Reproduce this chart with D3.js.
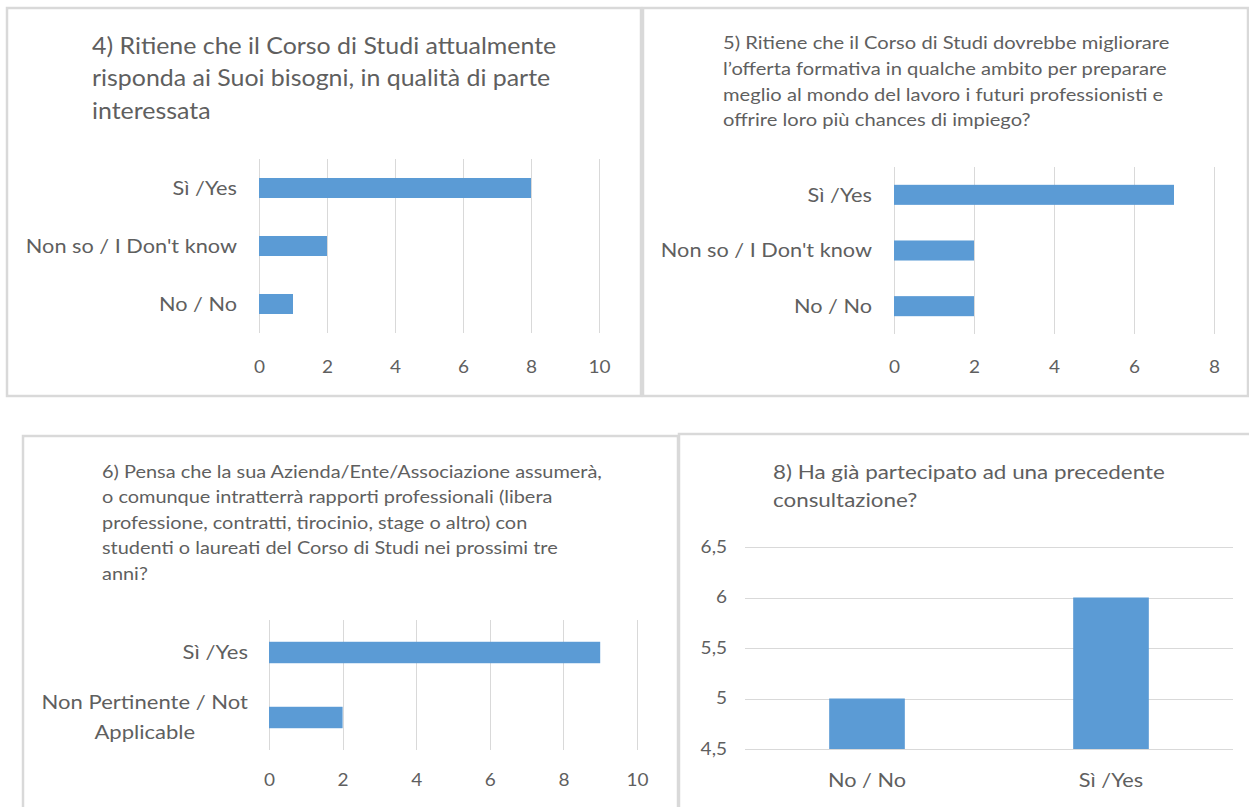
<!DOCTYPE html>
<html>
<head>
<meta charset="utf-8">
<script src="https://cdn.jsdelivr.net/npm/d3@7"></script>
<style>
  body { margin: 0; background: #fff; }
  svg { display: block; }
  text { font-family: Lato, "Open Sans", sans-serif; fill: #5f5f5f; }
</style>
</head>
<body>
<svg id="chart" width="1249" height="807"></svg>
<script>

// ===========================//
// DATA
// ===========================//

// Question 4
var q4Title = ["4) Ritiene che il Corso di Studi attualmente",
               "risponda ai Suoi bisogni, in qualità di parte",
               "interessata"]
var q4Cats = ["Sì /Yes", "Non so / I Don't know", "No / No"]
var q4Values = [8, 2, 1]
var q4Ticks = [0, 2, 4, 6, 8, 10]

// Question 5
var q5Title = ["5) Ritiene che il Corso di Studi dovrebbe migliorare",
               "l\u2019offerta formativa in qualche ambito per preparare",
               "meglio al mondo del lavoro i futuri professionisti e",
               "offrire loro più chances di impiego?"]
var q5Cats = ["Sì /Yes", "Non so / I Don't know", "No / No"]
var q5Values = [7, 2, 2]
var q5Ticks = [0, 2, 4, 6, 8]

// Question 6
var q6Title = ["6) Pensa che la sua Azienda/Ente/Associazione assumerà,",
               "o comunque intratterrà rapporti professionali (libera",
               "professione, contratti, tirocinio, stage o altro) con",
               "studenti o laureati del Corso di Studi nei prossimi tre",
               "anni?"]
var q6Cats = ["Sì /Yes", "Non Pertinente / Not|Applicable"]
var q6Values = [9, 2]
var q6Ticks = [0, 2, 4, 6, 8, 10]

// Question 8
var q8Title = ["8) Ha già partecipato ad una precedente",
               "consultazione?"]
var q8Cats = ["No / No", "Sì /Yes"]
var q8Values = [5, 6]
var q8Ticks = [4.5, 5, 5.5, 6, 6.5]


// ===========================//
// STYLE
// ===========================//

var barColor = "#5b9bd5"
var gridColor = "#d9d9d9"
var borderColor = "#d9d9d9"
var textColor = "#5f5f5f"

// the source picture is a bit wider than tall, so text is stretched a little
var stretch = 1.12

var itFormat = d3.formatLocale({decimal: ",", thousands: ".", grouping: [3], currency: ["", "€"]}).format("~g")

var svg = d3.select("#chart")


// ===========================//
// HELPERS
// ===========================//

// panel frame
function drawBorder(box) {
  svg.append("rect")
    .attr("x", box.x).attr("y", box.y)
    .attr("width", box.w).attr("height", box.h)
    .attr("fill", "none")
    .attr("stroke", borderColor)
    .attr("stroke-width", 2.5)
}

// multi line title, lines given
function drawTitle(lines, t) {
  var txt = svg.append("text")
    .attr("transform", "translate(" + t.x + ",0) scale(" + stretch + ",1)")
    .style("font-size", t.size + "px")
  txt.selectAll("tspan")
    .data(lines)
    .enter()
    .append("tspan")
      .attr("x", 0)
      .attr("y", function(d, i){ return t.y + i * t.lh })
      .text(function(d){ return d })
}

// restyle axis labels
function styleAxisText(sel, size) {
  sel.selectAll("text")
    .attr("fill", textColor)
    .attr("transform", "scale(" + stretch + ",1)")
    .style("font-size", size + "px")
    .style("font-family", "Lato, sans-serif")
}

// horizontal bar chart
function drawHBar(cfg) {
  drawBorder(cfg.box)
  drawTitle(cfg.title, cfg.titlePos)

  var x = d3.scaleLinear()
    .domain(cfg.domain)
    .range([cfg.plot.x0, cfg.plot.x1])

  var y = d3.scaleBand()
    .domain(cfg.cats)
    .range([cfg.plot.y0, cfg.plot.y1])
    .paddingInner(cfg.pad)
    .paddingOuter(cfg.pad / 2)

  // gridlines
  svg.append("g")
    .selectAll("line")
    .data(cfg.ticks)
    .enter()
    .append("line")
      .attr("x1", function(d){ return Math.round(x(d)) + 0.5 })
      .attr("x2", function(d){ return Math.round(x(d)) + 0.5 })
      .attr("y1", cfg.plot.y0)
      .attr("y2", cfg.plot.y1)
      .attr("stroke", gridColor)
      .attr("stroke-width", 1)

  // bars
  svg.append("g")
    .selectAll("rect")
    .data(cfg.values)
    .enter()
    .append("rect")
      .attr("x", x(cfg.domain[0]))
      .attr("y", function(d, i){ return y(cfg.cats[i]) })
      .attr("width", function(d){ return x(d) - x(cfg.domain[0]) })
      .attr("height", y.bandwidth())
      .attr("fill", barColor)

  // tick labels
  var axis = d3.axisBottom(x).tickValues(cfg.ticks).tickSize(0).tickPadding(0)
  var ax = svg.append("g")
    .attr("transform", "translate(0," + cfg.tickY + ")")
    .call(axis)
  ax.select(".domain").remove()
  styleAxisText(ax, cfg.tickSize)
  ax.selectAll("text").attr("dy", "0.35em")

  // category labels (may wrap on "|")
  cfg.cats.forEach(function(c) {
    var lines = c.split("|")
    var cy = y(c) + y.bandwidth() / 2
    var g = svg.append("text")
      .style("font-size", cfg.labelSize + "px")
    lines.forEach(function(l, i) {
      g.append("tspan")
        .attr("x", 0)
        .attr("y", cy + (i - (lines.length - 1) / 2) * cfg.labelLh)
        .attr("dy", "0.35em")
        .text(l)
    })
    if (lines.length == 1) {
      g.attr("text-anchor", "end")
        .attr("transform", "translate(" + cfg.labelRight + ",0) scale(" + stretch + ",1)")
    } else {
      // centred block, right edge aligned on widest line
      var w = d3.max(g.selectAll("tspan").nodes(), function(n){ return n.getComputedTextLength() }) * stretch
      g.attr("text-anchor", "middle")
        .attr("transform", "translate(" + (cfg.labelRight - w / 2) + ",0) scale(" + stretch + ",1)")
    }
  })
}

// vertical bar chart
function drawVBar(cfg) {
  drawBorder(cfg.box)
  drawTitle(cfg.title, cfg.titlePos)

  var y = d3.scaleLinear()
    .domain(cfg.domain)
    .range([cfg.plot.y1, cfg.plot.y0])

  var x = d3.scaleBand()
    .domain(cfg.cats)
    .range([cfg.plot.x0, cfg.plot.x1])
    .paddingInner(cfg.pad)
    .paddingOuter(cfg.pad / 2)

  svg.append("g")
    .selectAll("line")
    .data(cfg.ticks)
    .enter()
    .append("line")
      .attr("x1", cfg.plot.x0)
      .attr("x2", cfg.plot.x1)
      .attr("y1", function(d){ return Math.round(y(d)) + 0.5 })
      .attr("y2", function(d){ return Math.round(y(d)) + 0.5 })
      .attr("stroke", gridColor)
      .attr("stroke-width", 1)

  svg.append("g")
    .selectAll("rect")
    .data(cfg.values)
    .enter()
    .append("rect")
      .attr("x", function(d, i){ return x(cfg.cats[i]) })
      .attr("y", function(d){ return y(d) })
      .attr("width", x.bandwidth())
      .attr("height", function(d){ return y(cfg.domain[0]) - y(d) })
      .attr("fill", barColor)

  var yAxis = d3.axisLeft(y).tickValues(cfg.ticks).tickFormat(itFormat).tickSize(0).tickPadding(0)
  var ay = svg.append("g")
    .attr("transform", "translate(" + cfg.tickX + ",0)")
    .call(yAxis)
  ay.select(".domain").remove()
  styleAxisText(ay, cfg.tickSize)

  var xAxis = d3.axisBottom(x).tickSize(0).tickPadding(0)
  var axx = svg.append("g")
    .attr("transform", "translate(0," + cfg.labelY + ")")
    .call(xAxis)
  axx.select(".domain").remove()
  styleAxisText(axx, cfg.labelSize)
  axx.selectAll("text").attr("dy", "0.35em")
}


// ===========================//
// DRAW THE FOUR PANELS
// ===========================//

drawHBar({
  box: {x: 7, y: 8, w: 634, h: 388},
  title: q4Title, titlePos: {x: 92, y: 54, lh: 32.5, size: 22.25},
  cats: q4Cats, values: q4Values, ticks: q4Ticks, domain: [0, 10],
  plot: {x0: 259, x1: 599, y0: 159, y1: 333},
  pad: 0.655,
  tickY: 367, tickSize: 17,
  labelRight: 237, labelSize: 19.4, labelLh: 30
})

drawHBar({
  box: {x: 643, y: 8, w: 605, h: 388},
  title: q5Title, titlePos: {x: 723, y: 49, lh: 25.8, size: 18},
  cats: q5Cats, values: q5Values, ticks: q5Ticks, domain: [0, 8],
  plot: {x0: 894, x1: 1214, y0: 167, y1: 334},
  pad: 0.64,
  tickY: 367, tickSize: 17,
  labelRight: 872, labelSize: 19.4, labelLh: 30
})

drawHBar({
  box: {x: 23, y: 436, w: 655, h: 380},
  title: q6Title, titlePos: {x: 102, y: 478, lh: 25.5, size: 17.8},
  cats: q6Cats, values: q6Values, ticks: q6Ticks, domain: [0, 10],
  plot: {x0: 269, x1: 637, y0: 620, y1: 750},
  pad: 0.67,
  tickY: 780, tickSize: 17,
  labelRight: 248, labelSize: 19.7, labelLh: 30
})

drawVBar({
  box: {x: 679, y: 434, w: 580, h: 380},
  title: q8Title, titlePos: {x: 773, y: 479, lh: 28, size: 20},
  cats: q8Cats, values: q8Values, ticks: q8Ticks, domain: [4.5, 6.5],
  plot: {x0: 745, x1: 1233, y0: 547, y1: 749},
  pad: 0.69,
  tickX: 727, tickSize: 17,
  labelY: 780, labelSize: 19.4
})

</script>
</body>
</html>
